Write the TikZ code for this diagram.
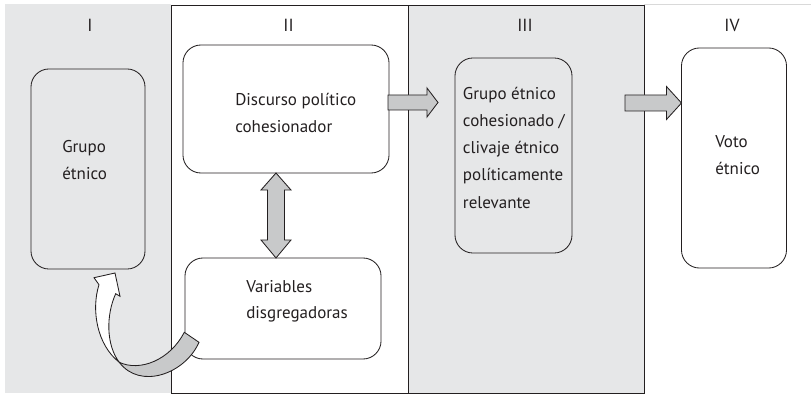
\documentclass[tikz,border=0pt]{standalone}
\usepackage{fontspec}
\setmainfont{PT Sans}
\usetikzlibrary{calc}
\definecolor{panelgray}{HTML}{E6E7E8}
\definecolor{arrowgray}{HTML}{C8C9CA}
\definecolor{ink}{HTML}{231F20}
\begin{document}
\begin{tikzpicture}[x=0.025cm,y=-0.025cm,
  every node/.style={text=ink},
  box/.style={draw=ink,line width=0.6pt,rounded corners=0.45cm,inner sep=0pt,outer sep=0pt},
  panelline/.style={draw=ink,line width=0.6pt},
  txt/.style={font=\fontsize{12.1}{19}\selectfont,align=left,inner sep=0pt,anchor=base west},
  head/.style={font=\fontsize{12.5}{14}\selectfont,inner sep=0pt,anchor=base},
  fat/.style={fill=arrowgray,draw=ink,line width=0.6pt,line join=miter}]
\useasboundingbox (0,0) rectangle (811,394);
% panels
\fill[panelgray] (5,4) rectangle (171,393);
\draw[panelline,fill=white] (171,5) rectangle (408,393);
\draw[panelline,fill=panelgray] (408,5) rectangle (644,393);
\draw[black!15,line width=0.6pt] (644,4.5) -- (811,4.5);
% headers
\node[head] (hI) at (90,31.7) {I};
\node[head] (hII) at (288.5,31.7) {II};
\node[head] (hIII) at (525,31.7) {III};
\node[head] (hIV) at (732,31.7) {IV};
% boxes
\node[box,fill=panelgray,minimum width=2.85cm,minimum height=5cm] (b1) at (88,169) {};
\node[box,fill=white,minimum width=5.15cm,minimum height=3.2cm] (b2) at (286,109) {};
\node[box,fill=white,minimum width=4.9cm,minimum height=2.525cm] (b2b) at (283,308.5) {};
\node[box,fill=panelgray,minimum width=2.925cm,minimum height=4.875cm] (b3) at (513.5,155.5) {};
\node[box,fill=white,minimum width=2.625cm,minimum height=5.5cm] (b4) at (734,158) {};
% texts (anchored at the baseline of their last line)
\node[txt] (t1) at (62,179.7) {Grupo\\étnico};
\node[txt] (t2) at (235,132.7) {Discurso político\\cohesionador};
\node[txt,font=\fontsize{12.1}{17.8}\selectfont] (t2b) at (246,318) {Variables\\disgregadoras};
\node[txt,font=\fontsize{12.1}{19.4}\selectfont] (t3) at (462.7,208.2) {Grupo étnico\\cohesionado /\\clivaje étnico\\políticamente\\relevante};
\node[txt] (t4) at (715,174.7) {Voto\\étnico};
% double arrow between b2 and b2b
\coordinate (dx) at (276,0);
\coordinate (dt) at (b2.south -| dx);
\coordinate (db) at (b2b.north -| dx);
\draw[fat] (dt) -- ($(dt)+(15,17)$) -- ($(dt)+(8.5,17)$) -- ($(db)+(8.5,-18)$) -- ($(db)+(15,-18)$)
  -- (db) -- ($(db)+(-15,-18)$) -- ($(db)+(-8.5,-18)$) -- ($(dt)+(-8.5,17)$) -- ($(dt)+(-15,17)$) -- cycle;
% arrow II -> III
\coordinate (a1s) at ($(b2.east)+(-1,-6.5)$);
\coordinate (a1t) at ($(b3.west)+(-17,-53)$);
\draw[fat] ($(a1s)+(0,-7.5)$) -- ($(a1t)+(-11,-7.5)$) -- ($(a1t)+(-11,-14.5)$) -- (a1t)
  -- ($(a1t)+(-11,14.5)$) -- ($(a1t)+(-11,7.5)$) -- ($(a1s)+(0,7.5)$) -- cycle;
% arrow III -> IV
\coordinate (a2t) at ($(b4.west)+(0,-55)$);
\coordinate (a2s) at ($(b3.east)+(53,-52.5)$);
\draw[fat] ($(a2s)+(0,-8)$) -- ($(a2t)+(-15,-8)$) -- ($(a2t)+(-15,-16.5)$) -- (a2t)
  -- ($(a2t)+(-15,16.5)$) -- ($(a2t)+(-15,8)$) -- ($(a2s)+(0,8)$) -- cycle;
% curved arrow from b2b back to b1
\coordinate (W) at (119.3,362.3);
\draw[fill=white,draw=ink,line width=0.6pt,line join=miter]
  (W) .. controls (97,345) and (91,310) .. (99,284.7) -- (94,277.7) -- (115,273)
  -- (120,296.3) -- (115.7,293.7) .. controls (106,315) and (106,345) .. (W) -- cycle;
\draw[fat]
  (184.3,332.3) -- (199,342.3) .. controls (185,374) and (140,390) .. (W)
  .. controls (140,372) and (170,360) .. (184.3,332.3) -- cycle;
\end{tikzpicture}
\end{document}
